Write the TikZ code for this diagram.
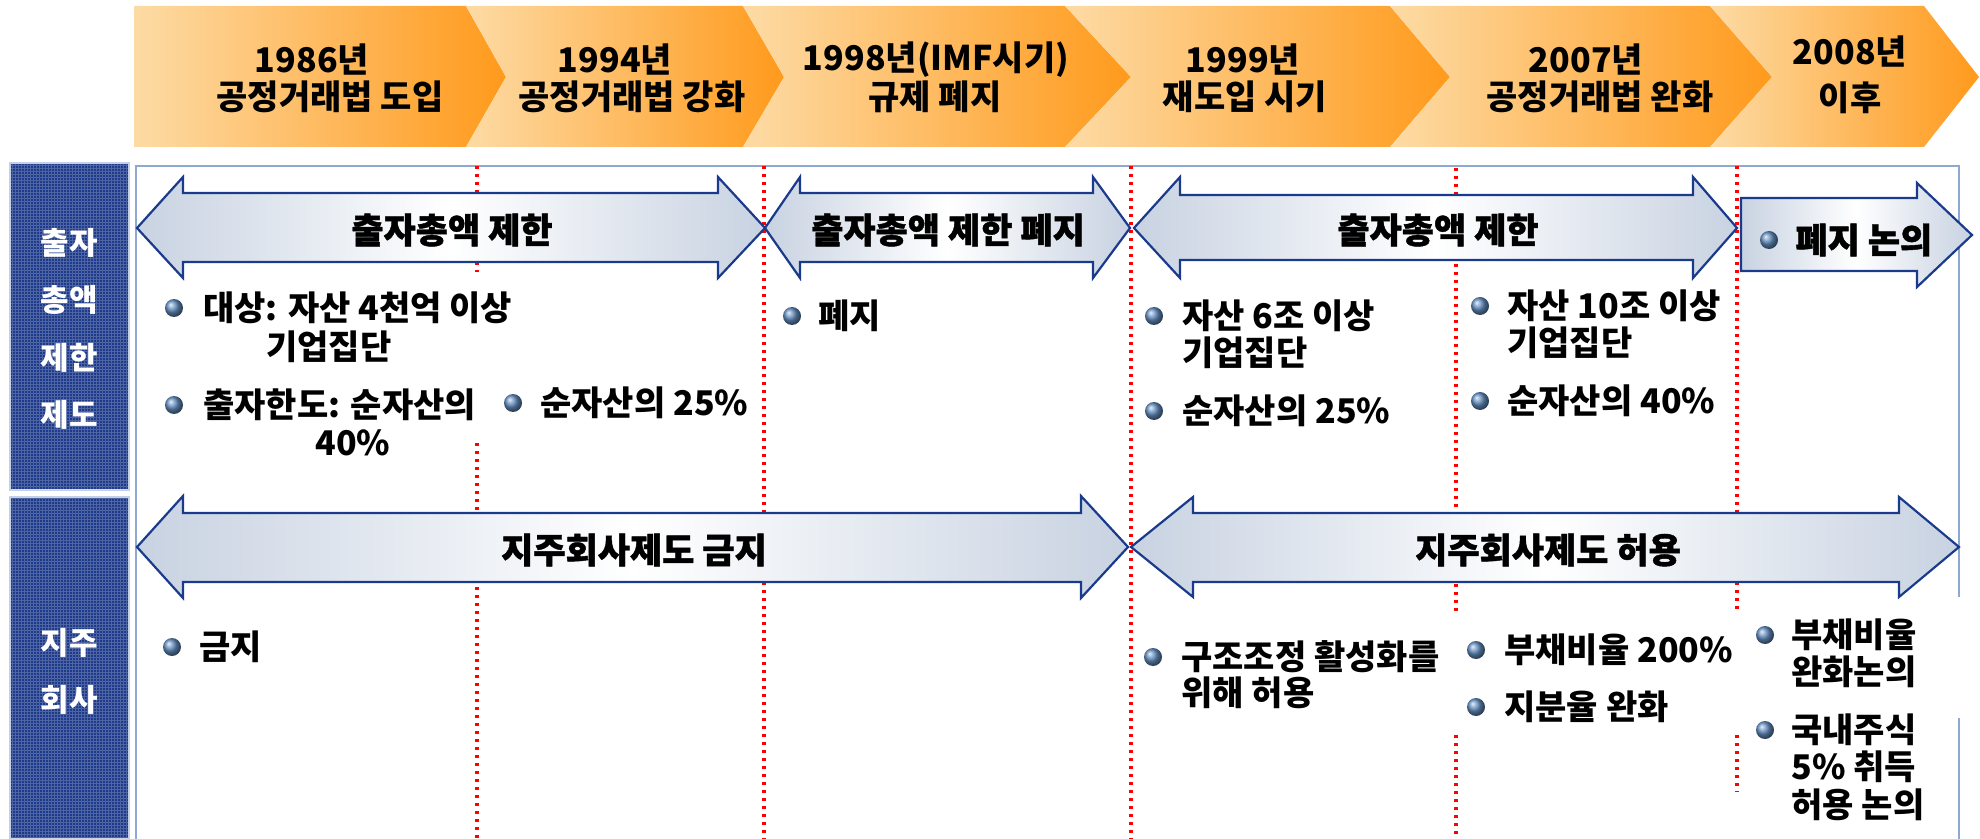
\documentclass[tikz,border=0pt]{standalone}
\usepackage{fontspec}
\setmainfont{Noto Sans CJK KR}
\newfontfamily\heavyfont[FakeBold=1.2]{Noto Sans CJK KR}
\definecolor{navy}{HTML}{1A3A8C}
\definecolor{arrowend}{HTML}{C8D2E1}
\definecolor{peach}{HTML}{FDDBA5}
\definecolor{orng}{HTML}{FF9A1C}
\definecolor{boxblue}{HTML}{8EA8D4}
\definecolor{bulletblue}{HTML}{6590C2}
\definecolor{sidenavy}{HTML}{1E3A8A}
\definecolor{sideedge}{HTML}{C3D0E8}
\tikzset{
  chev/.style={left color=peach, right color=orng},
  darr/.style={left color=arrowend, right color=arrowend, middle color=white, draw=navy, line width=1.1pt, line join=miter},
  redline/.style={red, line width=1.6pt, dash pattern=on 1.6pt off 2.4pt},
  boxline/.style={boxblue, line width=1.2pt},
  bul/.style={circle, inner sep=0pt, minimum size=9pt, ball color=bulletblue},
  txt/.style={font=\fontsize{17}{20}\selectfont\bfseries, anchor=west, inner sep=0pt},
  ctxt/.style={font=\fontsize{17}{20}\selectfont\bfseries, inner sep=0pt},
  chevtxt/.style={font=\fontsize{17}{20}\selectfont\bfseries, inner sep=0pt},
  arrtxt/.style={font=\heavyfont\bfseries\fontsize{17.5}{20}\selectfont, inner sep=0pt},
  side/.style={font=\fontsize{15.5}{18}\selectfont\bfseries, text=white, inner sep=0pt},
  sidebox/.style={fill=sidenavy, draw=sideedge, line width=1pt}
}
\begin{document}
\begin{tikzpicture}[x=0.5pt, y=-0.5pt]
\useasboundingbox (0,0) rectangle (1980,839);
% ---------- chevrons ----------
\path[chev] (134,6) -- (466,6) -- (506,77) -- (466,147) -- (134,147) -- cycle;
\path[chev] (466,6) -- (743,6) -- (784,77) -- (743,147) -- (466,147) -- (506,77) -- cycle;
\path[chev] (743,6) -- (1065,6) -- (1131,77) -- (1065,147) -- (743,147) -- (784,77) -- cycle;
\path[chev] (1065,6) -- (1390,6) -- (1450,77) -- (1390,147) -- (1065,147) -- (1131,77) -- cycle;
\path[chev] (1390,6) -- (1710,6) -- (1772,77) -- (1710,147) -- (1390,147) -- (1450,77) -- cycle;
\path[chev] (1710,6) -- (1924,6) -- (1979,77) -- (1924,147) -- (1710,147) -- (1772,77) -- cycle;
\node[chevtxt] (c1a) at (312,60) {1986년};
\node[chevtxt] (c1b) at (330,97) {공정거래법 도입};
\node[chevtxt] (c2a) at (615,60) {1994년};
\node[chevtxt] (c2b) at (632,97) {공정거래법 강화};
\node[chevtxt] (c3a) at (936,60) {1998년(IMF시기)};
\node[chevtxt] (c3b) at (935,97) {규제 폐지};
\node[chevtxt] (c4a) at (1243,60) {1999년};
\node[chevtxt] (c4b) at (1245,97) {재도입 시기};
\node[chevtxt] (c5a) at (1586,60) {2007년};
\node[chevtxt] (c5b) at (1600,97) {공정거래법 완화};
\node[chevtxt] (c6a) at (1850,52) {2008년};
\node[chevtxt] (c6b) at (1850,98) {이후};
% ---------- sidebars ----------
\path[sidebox] (10,163) rectangle (129,490);
\path[sidebox] (10,497) rectangle (129,839);
\draw[white, opacity=0.22, line width=0.35pt, step=1.5pt] (11,164) grid (128,489);
\draw[white, opacity=0.22, line width=0.35pt, step=1.5pt] (11,498) grid (128,839);
\node[side] (s1) at (69,243) {출자};
\node[side] (s2) at (69,300) {총액};
\node[side] (s3) at (69,358) {제한};
\node[side] (s4) at (69,415) {제도};
\node[side] (s5) at (69,643) {지주};
\node[side] (s6) at (69,700) {회사};
% ---------- frame ----------
\draw[boxline] (136,839) -- (136,166) -- (1959,166) -- (1959,597);
\draw[boxline] (1959,718) -- (1959,839);
% ---------- red dotted dividers ----------
\draw[redline] (477,166) -- (477,272);
\draw[redline] (477,443) -- (477,839);
\draw[redline] (764,166) -- (764,839);
\draw[redline] (1131,166) -- (1131,839);
\draw[redline] (1456,168) -- (1456,613);
\draw[redline] (1456,735) -- (1456,839);
\draw[redline] (1737,166) -- (1737,613);
\draw[redline] (1737,735) -- (1737,792);
% ---------- arrows row 1 ----------
\path[darr] (137,228) -- (183,177) -- (183,193) -- (718,193) -- (718,177) -- (765,228) -- (718,278) -- (718,262) -- (183,262) -- (183,278) -- cycle;
\path[darr] (765,228) -- (800,177) -- (800,193) -- (1093,193) -- (1093,177) -- (1130,228) -- (1093,278) -- (1093,262) -- (800,262) -- (800,278) -- cycle;
\path[darr] (1134,228) -- (1180,177) -- (1180,195) -- (1693,195) -- (1693,177) -- (1737,228) -- (1693,278) -- (1693,260) -- (1180,260) -- (1180,278) -- cycle;
\path[darr] (1741,198) -- (1917,198) -- (1917,183) -- (1972,235) -- (1917,287) -- (1917,271) -- (1741,271) -- cycle;
\node[arrtxt] (a1) at (452,230) {출자총액 제한};
\node[arrtxt] (a2) at (948,230) {출자총액 제한 폐지};
\node[arrtxt] (a3) at (1438,230) {출자총액 제한};
\node[bul] (ab) at (1769,240) {};
\node[arrtxt, anchor=west] (a4) at (1795,240) {폐지 논의};
% ---------- arrows row 2 ----------
\path[darr] (137,547) -- (183,496) -- (183,513) -- (1081,513) -- (1081,496) -- (1128,547) -- (1081,598) -- (1081,582) -- (183,582) -- (183,598) -- cycle;
\path[darr] (1131,547) -- (1193,497) -- (1193,513) -- (1899,513) -- (1899,497) -- (1959,547) -- (1899,597) -- (1899,582) -- (1193,582) -- (1193,597) -- cycle;
\node[arrtxt] (a5) at (634,550) {지주회사제도 금지};
\node[arrtxt] (a6) at (1548,550) {지주회사제도 허용};
% ---------- row 1 bullets ----------
\node[bul] (b1) at (174,308) {};
\node[txt] (t1a) at (203,308) {대상: 자산 4천억 이상};
\node[txt] (t1b) at (266,347) {기업집단};
\node[bul] (b2) at (174,405) {};
\node[txt] (t2a) at (203,405) {출자한도: 순자산의};
\node[ctxt] (t2b) at (353,443) {40\%};
\node[bul] (b3) at (513,403) {};
\node[txt] (t3) at (540,403) {순자산의 25\%};
\node[bul] (b4) at (792,316) {};
\node[txt] (t4) at (818,316) {폐지};
\node[bul] (b5) at (1154,316) {};
\node[txt] (t5a) at (1182,316) {자산 6조 이상};
\node[txt] (t5b) at (1182,353) {기업집단};
\node[bul] (b6) at (1154,411) {};
\node[txt] (t6) at (1182,411) {순자산의 25\%};
\node[bul] (b7) at (1480,306) {};
\node[txt] (t7a) at (1507,306) {자산 10조 이상};
\node[txt] (t7b) at (1507,343) {기업집단};
\node[bul] (b8) at (1480,401) {};
\node[txt] (t8) at (1507,401) {순자산의 40\%};
% ---------- row 2 bullets ----------
\node[bul] (d1) at (172,647) {};
\node[txt] (u1) at (199,647) {금지};
\node[bul] (d2) at (1153,657) {};
\node[txt] (u2a) at (1181,657) {구조조정 활성화를};
\node[txt] (u2b) at (1181,693) {위해 허용};
\node[bul] (d3) at (1476,650) {};
\node[txt] (u3) at (1504,650) {부채비율 200\%};
\node[bul] (d4) at (1476,707) {};
\node[txt] (u4) at (1504,707) {지분율 완화};
\node[bul] (d5) at (1765,635) {};
\node[txt] (u5a) at (1791,635) {부채비율};
\node[txt] (u5b) at (1791,672) {완화논의};
\node[bul] (d6) at (1765,730) {};
\node[txt] (u6a) at (1791,730) {국내주식};
\node[txt] (u6b) at (1791,767) {5\% 취득};
\node[txt] (u6c) at (1791,805) {허용 논의};
\end{tikzpicture}
\end{document}
